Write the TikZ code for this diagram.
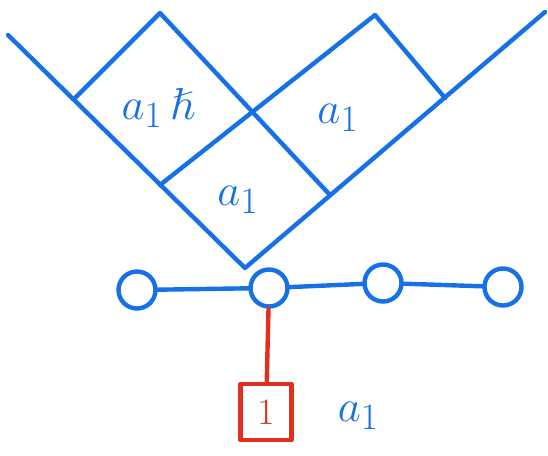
\documentclass[tikz,border=0pt]{standalone}
\usepackage{amssymb}
\usetikzlibrary{positioning}
\definecolor{penblue}{RGB}{22,112,232}
\definecolor{penred}{RGB}{226,48,32}
\newcommand{\hw}[2][1.8]{\scalebox{#1}{$#2$}}
\tikzset{lab/.style = {text=penblue, inner sep=0pt, font=\Huge},
  vert/.style = {circle, draw=penblue, minimum size=37pt, inner sep=0pt},
  frame/.style = {draw=penred, text=penred, minimum width=51pt, minimum height=56pt,
    inner sep=0pt, font=\Huge}}

\begin{document}
\begin{tikzpicture}[x=1pt, y=-1pt, line width=4.4pt, penblue, line cap=round, line join=round]
  \useasboundingbox (0,0) rectangle (548,455);
  % boxes in the corner
  \draw (8,35) -- (245,268) -- (545,12);
  \draw (75,98) -- (160,13) -- (330,195);
  \draw (160,185) -- (375,15) -- (445,98);
  \node[lab] (top) at (158,108) {\hw{a_1\,\hslash}};
  \node[lab] (right) at (338,118) {\hw{a_1}};
  \node[lab] (low) at (238,200) {\hw{a_1}};
  % the chain
  \node[vert] (v1) at (137,290) {};
  \node[vert] (v2) at (269,288) {};
  \node[vert] (v3) at (383,283) {};
  \node[vert] (v4) at (503,287) {};
  \draw (v1) -- (v2) -- (v3) -- (v4);
  \node[frame] (w) at (266,412) {\hw[1.5]{1}};
  \draw[penred] (v2) -- (w);
  \node[lab, right=42pt of w, yshift=-4pt] (wlab) {\hw{a_1}};
\end{tikzpicture}
\end{document}
